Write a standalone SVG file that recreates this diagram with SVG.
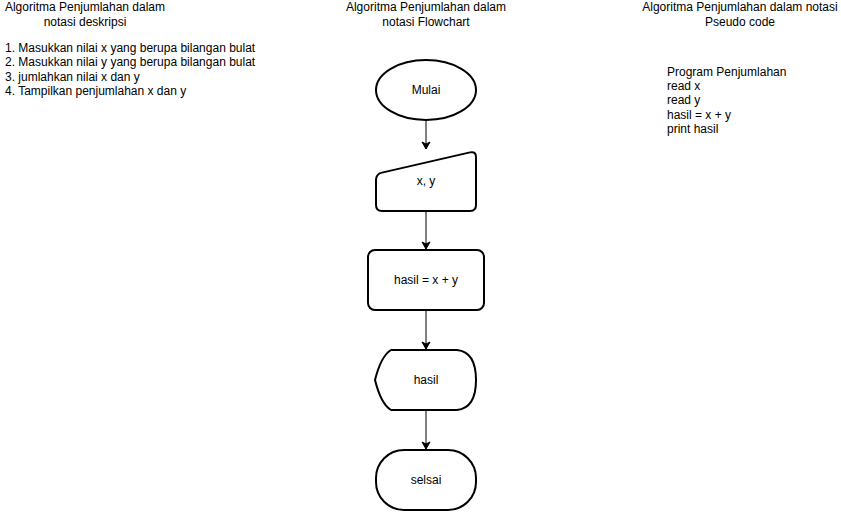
<svg xmlns="http://www.w3.org/2000/svg" width="841" height="512" viewBox="0 0 841 512">
<style>
text{font-family:"Liberation Sans",Arial,sans-serif;font-size:12px;fill:#000}
.c{text-anchor:middle}
.s{fill:#fff;stroke:#000;stroke-width:2}
.e{stroke:#000;stroke-width:1;fill:none;marker-end:url(#a)}
</style>
<defs>
<marker id="a" markerWidth="10" markerHeight="10" refX="8" refY="5" orient="auto" markerUnits="userSpaceOnUse">
<path d="M1,1 L8,5 L1,9 L3,5 Z" fill="#000" stroke="#000" stroke-width="1"/>
</marker>
</defs>
<rect width="841" height="512" fill="#fff"/>
<g id="title-left">
<text class="c" x="85" y="11">Algoritma Penjumlahan dalam</text>
<text class="c" x="85" y="26">notasi deskripsi</text>
<text x="5" y="52">1. Masukkan nilai x yang berupa bilangan bulat</text>
<text x="5" y="66">2. Masukkan nilai y yang berupa bilangan bulat</text>
<text x="5" y="81">3. jumlahkan nilai x dan y</text>
<text x="5" y="95">4. Tampilkan penjumlahan x dan y</text>
</g>
<g id="title-center">
<text class="c" x="426" y="11">Algoritma Penjumlahan dalam</text>
<text class="c" x="426" y="26">notasi Flowchart</text>
</g>
<g id="title-right">
<text class="c" x="740" y="11">Algoritma Penjumlahan dalam notasi</text>
<text class="c" x="740" y="26">Pseudo code</text>
<text x="667" y="76">Program Penjumlahan</text>
<text x="667" y="90">read x</text>
<text x="667" y="104">read y</text>
<text x="667" y="119">hasil = x + y</text>
<text x="667" y="133">print hasil</text>
</g>
<g id="connectors">
<line class="e" x1="426" y1="120" x2="426" y2="149"/>
<line class="e" x1="426" y1="211" x2="426" y2="249"/>
<line class="e" x1="426" y1="310" x2="426" y2="349"/>
<line class="e" x1="426" y1="410" x2="426" y2="449"/>
</g>
<g id="mulai">
<ellipse class="s" cx="426" cy="90" rx="50" ry="30"/>
<text class="c" x="426" y="94">Mulai</text>
</g>
<g id="input">
<path class="s" d="M382,172.6 L470,152.4 Q476,151 476,157 L476,205 Q476,211 470,211 L382,211 Q376,211 376,205 L376,180 Q376,174 382,172.6 Z"/>
<text class="c" x="426" y="185">x, y</text>
</g>
<g id="proses">
<rect class="s" x="368" y="250" width="116" height="60" rx="7"/>
<text class="c" x="426" y="284">hasil = x + y</text>
</g>
<g id="display">
<path class="s" d="M391,350 L457,350 Q476,352 476,380 Q476,408 457,410 L391,410 Q381,404 375,380 Q381,356 391,350 Z"/>
<text class="c" x="426" y="384">hasil</text>
</g>
<g id="selsai">
<rect class="s" x="376" y="450" width="100" height="60" rx="28" ry="28"/>
<text class="c" x="426" y="484">selsai</text>
</g>
</svg>
